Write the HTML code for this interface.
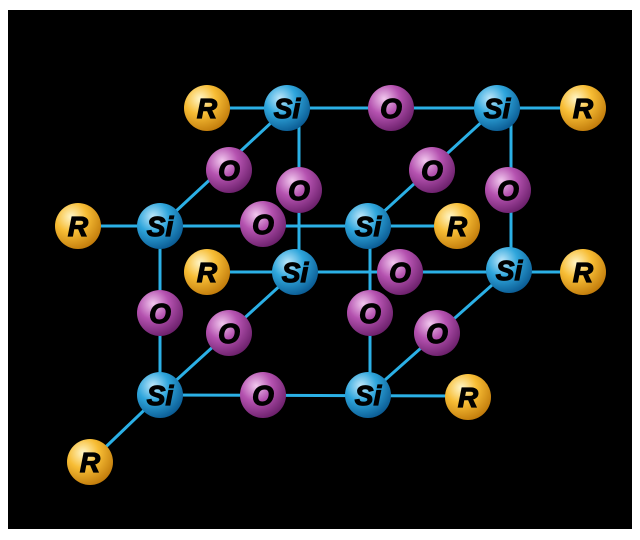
<!DOCTYPE html>
<html><head><style>body{margin:0;background:#fff}svg{display:block}</style></head><body>
<svg width="640" height="540" xmlns="http://www.w3.org/2000/svg">
<defs>
<radialGradient id="b" cx="0.35" cy="0.3" r="0.75"><stop offset="0" stop-color="#bfe8fb"/><stop offset="0.45" stop-color="#2fa6dc"/><stop offset="1" stop-color="#0a5a92"/></radialGradient>
<radialGradient id="p" cx="0.35" cy="0.3" r="0.75"><stop offset="0" stop-color="#f1c8ee"/><stop offset="0.45" stop-color="#b552b0"/><stop offset="1" stop-color="#6a1f6a"/></radialGradient>
<radialGradient id="y" cx="0.35" cy="0.3" r="0.75"><stop offset="0" stop-color="#fff6c8"/><stop offset="0.45" stop-color="#f7bd35"/><stop offset="1" stop-color="#c07a0a"/></radialGradient>
</defs>
<rect x="8" y="10" width="624" height="519" fill="#000"/>
<g stroke="#2bb0e6" stroke-width="3">
<line x1="207" y1="108" x2="583" y2="108"/>
<line x1="78" y1="226" x2="457" y2="226"/>
<line x1="207" y1="272" x2="583" y2="272"/>
<line x1="160" y1="395" x2="468" y2="396"/>
<line x1="160" y1="226" x2="160" y2="395"/>
<line x1="299" y1="112" x2="299" y2="272"/>
<line x1="370" y1="226" x2="370" y2="395"/>
<line x1="511" y1="112" x2="511" y2="270"/>
<line x1="287" y1="108" x2="160" y2="226"/>
<line x1="497" y1="108" x2="368" y2="226"/>
<line x1="295" y1="272" x2="160" y2="395"/>
<line x1="509" y1="270" x2="368" y2="395"/>
<line x1="160" y1="395" x2="90" y2="462"/>
</g>
<g font-family="Liberation Sans, sans-serif" font-weight="900" font-style="italic" font-size="28" text-anchor="middle" fill="#000" stroke="#000" stroke-width="1.2">
<circle cx="207" cy="108" r="23" fill="url(#y)" stroke="none"/><text x="207" y="118">R</text>
<circle cx="287" cy="108" r="23" fill="url(#b)" stroke="none"/><text x="287" y="118">Si</text>
<circle cx="391" cy="108" r="23" fill="url(#p)" stroke="none"/><text x="391" y="118">O</text>
<circle cx="497" cy="108" r="23" fill="url(#b)" stroke="none"/><text x="497" y="118">Si</text>
<circle cx="583" cy="108" r="23" fill="url(#y)" stroke="none"/><text x="583" y="118">R</text>
<circle cx="229" cy="170" r="23" fill="url(#p)" stroke="none"/><text x="229" y="180">O</text>
<circle cx="432" cy="170" r="23" fill="url(#p)" stroke="none"/><text x="432" y="180">O</text>
<circle cx="299" cy="190" r="23" fill="url(#p)" stroke="none"/><text x="299" y="200">O</text>
<circle cx="508" cy="190" r="23" fill="url(#p)" stroke="none"/><text x="508" y="200">O</text>
<circle cx="78" cy="226" r="23" fill="url(#y)" stroke="none"/><text x="78" y="236">R</text>
<circle cx="160" cy="226" r="23" fill="url(#b)" stroke="none"/><text x="160" y="236">Si</text>
<circle cx="263" cy="224" r="23" fill="url(#p)" stroke="none"/><text x="263" y="234">O</text>
<circle cx="368" cy="226" r="23" fill="url(#b)" stroke="none"/><text x="368" y="236">Si</text>
<circle cx="457" cy="226" r="23" fill="url(#y)" stroke="none"/><text x="457" y="236">R</text>
<circle cx="207" cy="272" r="23" fill="url(#y)" stroke="none"/><text x="207" y="282">R</text>
<circle cx="295" cy="272" r="23" fill="url(#b)" stroke="none"/><text x="295" y="282">Si</text>
<circle cx="400" cy="272" r="23" fill="url(#p)" stroke="none"/><text x="400" y="282">O</text>
<circle cx="509" cy="270" r="23" fill="url(#b)" stroke="none"/><text x="509" y="280">Si</text>
<circle cx="583" cy="272" r="23" fill="url(#y)" stroke="none"/><text x="583" y="282">R</text>
<circle cx="160" cy="313" r="23" fill="url(#p)" stroke="none"/><text x="160" y="323">O</text>
<circle cx="229" cy="333" r="23" fill="url(#p)" stroke="none"/><text x="229" y="343">O</text>
<circle cx="370" cy="313" r="23" fill="url(#p)" stroke="none"/><text x="370" y="323">O</text>
<circle cx="437" cy="333" r="23" fill="url(#p)" stroke="none"/><text x="437" y="343">O</text>
<circle cx="160" cy="395" r="23" fill="url(#b)" stroke="none"/><text x="160" y="405">Si</text>
<circle cx="263" cy="395" r="23" fill="url(#p)" stroke="none"/><text x="263" y="405">O</text>
<circle cx="368" cy="395" r="23" fill="url(#b)" stroke="none"/><text x="368" y="405">Si</text>
<circle cx="468" cy="397" r="23" fill="url(#y)" stroke="none"/><text x="468" y="407">R</text>
<circle cx="90" cy="462" r="23" fill="url(#y)" stroke="none"/><text x="90" y="472">R</text>
</g>
</svg>
</body></html>
